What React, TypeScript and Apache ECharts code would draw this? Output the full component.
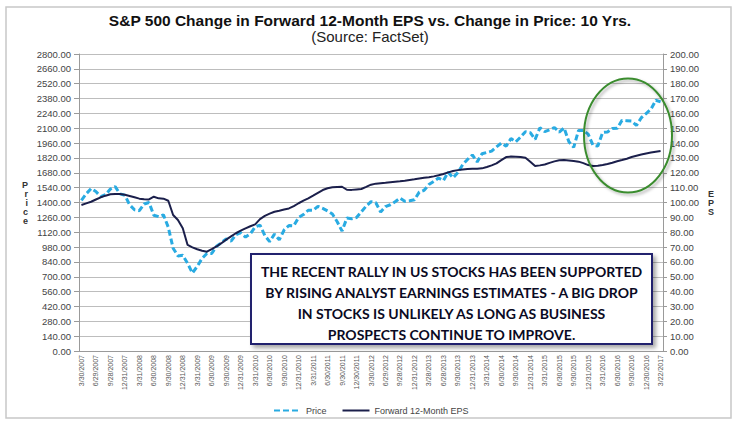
import React, { useEffect, useRef } from "react";
import * as echarts from "echarts";

const tickLabels = [
  "3/30/2007", "6/29/2007", "9/28/2007", "12/31/2007",
  "3/31/2008", "6/30/2008", "9/30/2008", "12/31/2008",
  "3/31/2009", "6/30/2009", "9/30/2009", "12/31/2009",
  "3/31/2010", "6/30/2010", "9/30/2010", "12/31/2010",
  "3/31/2011", "6/30/2011", "9/30/2011", "12/30/2011",
  "3/30/2012", "6/29/2012", "9/28/2012", "12/31/2012",
  "3/28/2013", "6/28/2013", "9/30/2013", "12/31/2013",
  "3/31/2014", "6/30/2014", "9/30/2014", "12/31/2014",
  "3/31/2015", "6/30/2015", "9/30/2015", "12/31/2015",
  "3/31/2016", "6/30/2016", "9/30/2016", "12/30/2016",
  "3/22/2017",
];

// monthly S&P 500 price (left axis)
const price = [
  1421, 1482, 1531, 1503, 1455, 1474, 1527, 1549, 1481, 1468,
  1378, 1331, 1323, 1386, 1400, 1280, 1267, 1283, 1166, 969, 896, 903,
  826, 735, 798, 873, 919, 919, 987, 1021, 1057, 1036, 1096, 1115,
  1074, 1104, 1169, 1187, 1089, 1031, 1102, 1049, 1141, 1183, 1181, 1258,
  1286, 1327, 1326, 1364, 1345, 1321, 1292, 1219, 1131, 1253, 1247, 1258,
  1312, 1366, 1408, 1398, 1310, 1362, 1379, 1407, 1441, 1412, 1416, 1426,
  1498, 1515, 1569, 1598, 1631, 1606, 1686, 1633, 1682, 1757, 1806, 1848,
  1783, 1859, 1872, 1884, 1924, 1960, 1931, 2003, 1972, 2018, 2068, 2059,
  1995, 2105, 2068, 2086, 2107, 2063, 2104, 1972, 1920, 2079, 2080, 2044,
  1940, 1932, 2060, 2065, 2097, 2099, 2174, 2171, 2168, 2126, 2199, 2239,
  2279, 2364, 2349,
];

// monthly forward 12-month EPS (right axis)
const eps = [
  98.3, 99.4, 100.5, 102, 103.5, 104.6, 105.5, 105.8, 105.7, 105.2,
  104.4, 103.5, 102.6, 102.2, 102.1, 103.9, 102.8, 102.6, 101.2, 91.6,
  88.2, 82.6, 71.4, 69.8, 68.5, 67.5, 66.9, 68.6, 70.4, 72.6,
  75, 77.2, 79.3, 81, 82.6, 84, 85.3, 88.8, 91, 92.5,
  93.8, 94.5, 95.3, 96, 97.5, 99.5, 101.2, 102.8, 104.6, 106.5,
  108.4, 109.6, 110.2, 110.5, 110.6, 108.6, 108.5, 108.8, 109.1, 110.5,
  112, 112.7, 113, 113.3, 113.7, 114, 114.3, 114.7, 115.2, 115.6,
  116.1, 116.6, 117, 117.6, 118.3, 119.2, 120.3, 121.2, 121.8, 122.2,
  122.5, 122.7, 122.8, 123, 123.9, 125, 126.3, 128.5, 130.6, 130.9,
  130.8, 130.6, 130.2, 127.5, 124.6, 125, 125.6, 126.7, 127.7, 128.4,
  128.6, 128.3, 127.9, 127.5, 126.5, 125.2, 124.6, 124.7, 125.2, 125.9,
  126.8, 127.8, 128.6, 129.5, 130.6, 131.5, 132.3, 133, 133.6, 134.2,
  134.7,
];

const seriesNames = ["Price", "Forward 12-Month EPS"];
const titleText = "S&P 500 Change in Forward 12-Month EPS vs. Change in Price: 10 Yrs.";
const subtitleText = "(Source: FactSet)";
const noteText =
  "THE RECENT RALLY IN US STOCKS HAS BEEN SUPPORTED\nBY RISING ANALYST EARNINGS ESTIMATES - A BIG DROP\nIN STOCKS IS UNLIKELY AS LONG AS BUSINESS\nPROSPECTS CONTINUE TO IMPROVE.";

function buildCategories(): string[] {
  const cats: string[] = [];
  tickLabels.forEach((t, q) => {
    cats.push(t);
    if (q < tickLabels.length - 1) {
      cats.push(t + " +1m");
      cats.push(t + " +2m");
    }
  });
  return cats;
}

export default function App() {
  const ref = useRef<HTMLDivElement>(null);
  useEffect(() => {
    if (!ref.current) return;
    const chart = echarts.init(ref.current, undefined, { renderer: "svg" });
    const categories = buildCategories();
    const axisGray = "#9a9a9a";
    const option: any = {
      animation: false,
      backgroundColor: "#ffffff",
      textStyle: { fontFamily: 'Arial, "Liberation Sans", sans-serif' },
      title: {
        text: titleText,
        subtext: subtitleText,
        left: "center",
        top: 7,
        itemGap: 1,
        textStyle: { fontSize: 15.5, fontWeight: "bold", color: "#111" },
        subtextStyle: { fontSize: 15, color: "#222" },
      },
      legend: {
        left: 268,
        top: 401,
        itemWidth: 27,
        itemHeight: 10,
        itemGap: 15,
        itemStyle: { opacity: 0 },
        textStyle: { fontSize: 9, color: "#444" },
        data: seriesNames,
      },
      grid: { left: 79, right: 77, top: 54, bottom: 75 },
      xAxis: {
        type: "category",
        data: categories,
        boundaryGap: true,
        axisLine: { show: true, lineStyle: { color: axisGray } },
        axisTick: { show: false },
        axisLabel: { interval: 2, rotate: 90, fontSize: 7, color: "#555", margin: 4 },
        splitLine: { show: false },
      },
      yAxis: [
        {
          type: "value",
          min: 0,
          max: 2800,
          interval: 140,
          position: "left",
          name: "P\nr\ni\nc\ne",
          nameLocation: "middle",
          nameRotate: 0,
          nameGap: 51,
          nameTextStyle: { fontSize: 9, fontWeight: "bold", lineHeight: 9, color: "#333" },
          axisLine: { show: true, lineStyle: { color: axisGray } },
          axisTick: { show: true, length: 5, lineStyle: { color: axisGray } },
          axisLabel: { formatter: (v: number) => v.toFixed(2), fontSize: 9.5, color: "#444", margin: 8 },
          splitLine: { show: true, lineStyle: { color: "#bdbdbd", width: 1 } },
        },
        {
          type: "value",
          min: 0,
          max: 200,
          interval: 10,
          position: "right",
          name: "E\nP\nS",
          nameLocation: "middle",
          nameRotate: 0,
          nameGap: 45,
          nameTextStyle: { fontSize: 9, fontWeight: "bold", lineHeight: 9, color: "#333" },
          axisLine: { show: true, lineStyle: { color: axisGray } },
          axisTick: { show: true, length: 4, lineStyle: { color: axisGray } },
          axisLabel: { formatter: (v: number) => v.toFixed(2), fontSize: 9.5, color: "#444", margin: 7 },
          splitLine: { show: false },
        },
      ],
      series: [
        {
          name: seriesNames[0],
          type: "line",
          yAxisIndex: 0,
          data: price,
          showSymbol: false,
          symbol: "none",
          lineStyle: { color: "#29abe2", width: 3, type: [6, 3] },
          itemStyle: { color: "#29abe2" },
          z: 3,
        },
        {
          name: seriesNames[1],
          type: "line",
          yAxisIndex: 1,
          data: eps,
          showSymbol: false,
          symbol: "none",
          lineStyle: { color: "#1b1f4b", width: 2 },
          itemStyle: { color: "#1b1f4b" },
          z: 4,
        },
      ],
      graphic: [
        {
          type: "rect",
          silent: true,
          z: -10,
          shape: { x: 6, y: 7, width: 725, height: 411 },
          style: { fill: "none", stroke: "#c8c8c8", lineWidth: 1.5 },
        },
        {
          type: "ellipse",
          silent: true,
          z: 20,
          shape: { cx: 628, cy: 135.5, rx: 44, ry: 57 },
          style: {
            fill: "none",
            stroke: "#3a8c2f",
            lineWidth: 2,
            shadowBlur: 3,
            shadowColor: "rgba(0,0,0,0.3)",
            shadowOffsetX: 2,
            shadowOffsetY: 2,
          },
        },
        {
          type: "rect",
          silent: true,
          z: 20,
          shape: { x: 251, y: 254, width: 401, height: 90 },
          style: {
            fill: "#ffffff",
            stroke: "#23236e",
            lineWidth: 2,
            shadowBlur: 4,
            shadowColor: "rgba(0,0,0,0.35)",
            shadowOffsetX: 3,
            shadowOffsetY: 3,
          },
        },
        {
          type: "text",
          silent: true,
          z: 21,
          x: 451.5,
          y: 302.5,
          style: {
            text: noteText,
            fill: "#0a0a23",
            fontSize: 14,
            fontWeight: "bold",
            fontFamily: 'Lato, "Noto Sans", sans-serif',
            align: "center",
            verticalAlign: "middle",
            lineHeight: 21,
          },
        },
      ],
    };
    chart.setOption(option);
    return () => chart.dispose();
  }, []);
  return (
    <div
      ref={ref}
      style={{ position: "fixed", left: 0, top: 0, width: 740, height: 426 }}
    />
  );
}
